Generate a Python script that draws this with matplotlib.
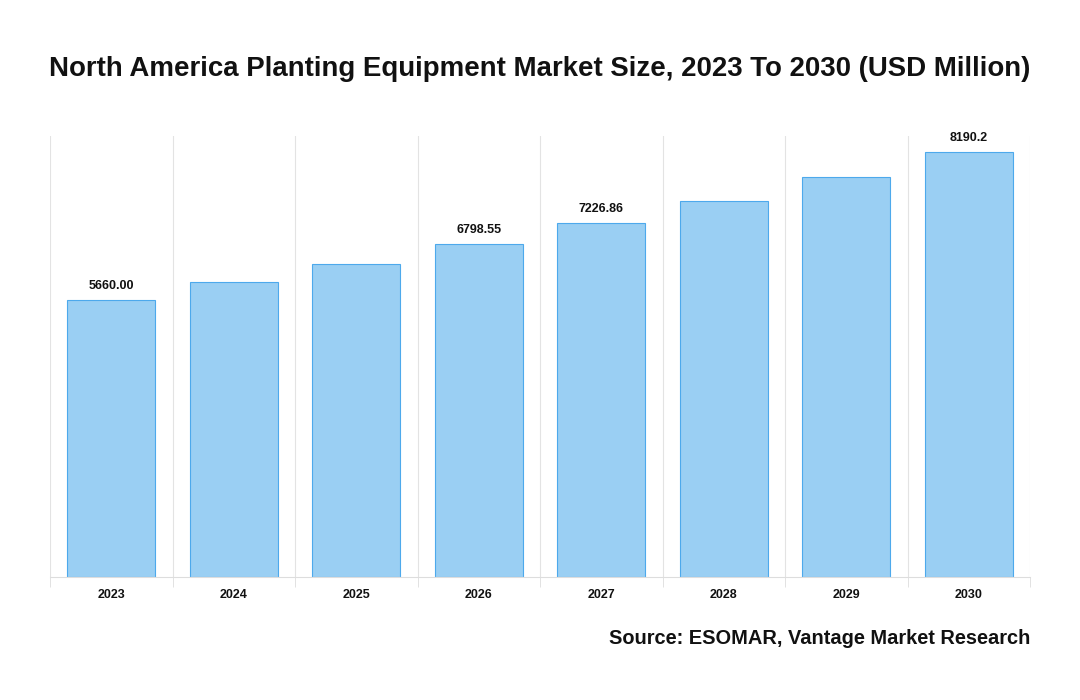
import matplotlib.pyplot as plt
import numpy as np

plt.rcParams['font.family'] = ['Liberation Sans', 'DejaVu Sans']

# Data
years = ['2023', '2024', '2025', '2026', '2027', '2028', '2029', '2030']
market_size = [5660.00, 6028, 6396, 6798.55, 7226.86, 7683, 8173, 8684]
bar_labels = ['5660.00', '', '', '6798.55', '7226.86', '', '', '8190.2']

fig = plt.figure(figsize=(10.8, 7), dpi=100)
ax = fig.add_axes([50 / 1080, 123 / 700, 980 / 1080, 441 / 700])

x = np.arange(len(years))
bars = ax.bar(x, market_size, width=0.72, color='#9ACFF3', edgecolor='#4DA9EC', linewidth=0.8, zorder=2)

for rect, lab in zip(bars, bar_labels):
    if lab:
        ax.text(rect.get_x() + rect.get_width() / 2, rect.get_height() + 170, lab,
                ha='center', va='bottom', fontsize=9, fontweight='bold', color='#111111')

ax.set_xlim(-0.5, len(years) - 0.5)
ax.set_ylim(0, 9010)
ax.set_xticks(x)
ax.set_xticklabels(years, fontsize=9, fontweight='bold', color='#111111')
ax.set_xticks(np.arange(-0.5, len(years)), minor=True)
ax.tick_params(axis='x', which='major', length=0, pad=9)
ax.tick_params(axis='x', which='minor', length=7, color='#dddddd')
ax.set_yticks([])
ax.grid(axis='x', which='minor', color='#e3e3e3', linewidth=0.8, zorder=0)
for s in ['top', 'left', 'right']:
    ax.spines[s].set_visible(False)
ax.spines['bottom'].set_color('#dddddd')

fig.text(540 / 1080, 1 - 69 / 700, 'North America Planting Equipment Market Size, 2023 To 2030 (USD Million)',
         ha='center', va='center', fontsize=19.9, fontweight='bold', color='#111111')
fig.text(1030 / 1080, 1 - 638 / 700, 'Source: ESOMAR, Vantage Market Research',
         ha='right', va='center', fontsize=14.4, fontweight='bold', color='#111111')

fig.savefig('out.png', dpi=100)
